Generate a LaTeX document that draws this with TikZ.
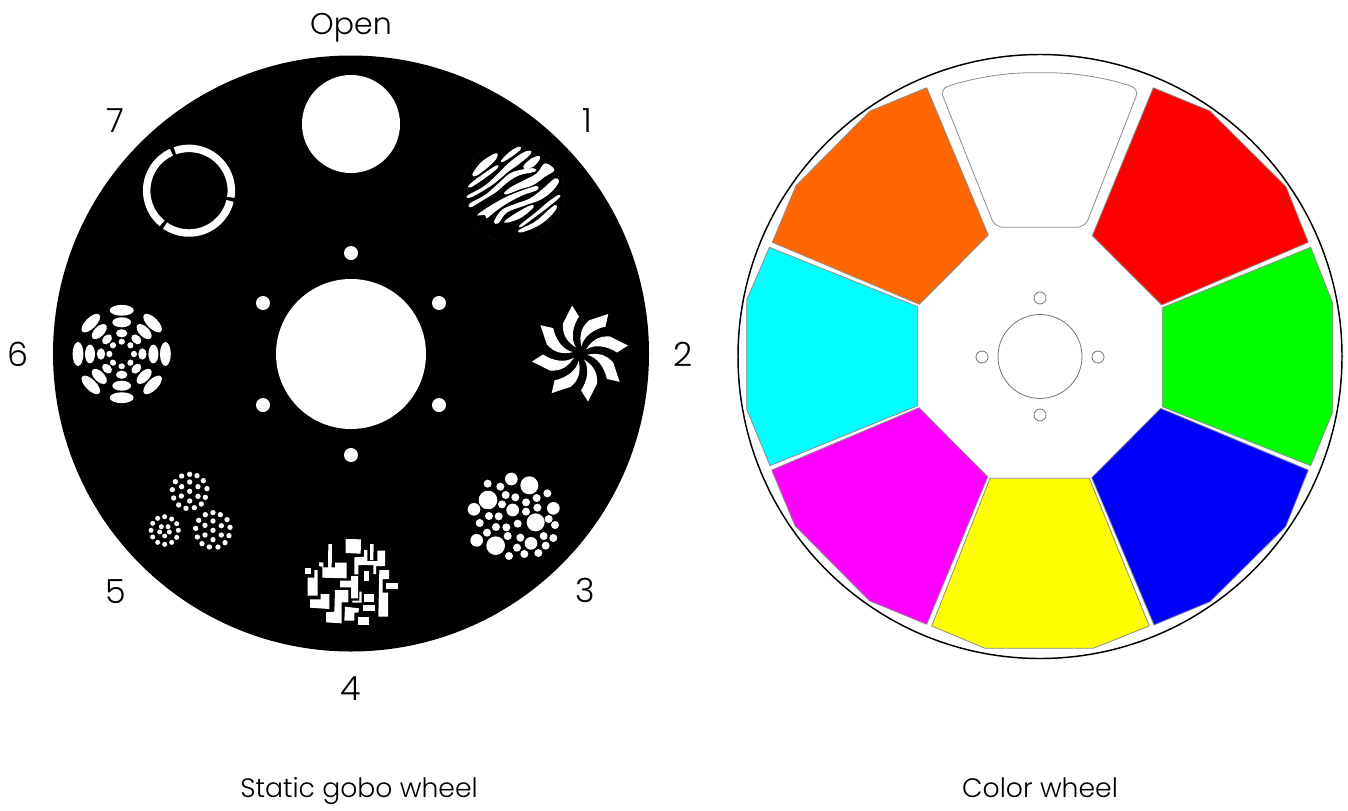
\documentclass[tikz,border=0pt]{standalone}
\usepackage{fontspec}
\setmainfont{Poppins Light}
\definecolor{wheelorange}{RGB}{255,102,0}
\definecolor{wcyan}{RGB}{0,255,255}
\definecolor{wred}{RGB}{255,0,0}
\definecolor{wgreen}{RGB}{0,255,0}
\definecolor{wblue}{RGB}{0,0,255}
\definecolor{wyellow}{RGB}{255,255,0}
\definecolor{wmagenta}{RGB}{255,0,255}
\newcommand{\stp}[1]{\fill[white] plot[smooth cycle,tension=0.6] coordinates {#1};}
\tikzset{
 lab/.style={font=\fontsize{20}{24}\selectfont,text=black,inner sep=0pt,anchor=base},
 numlab/.style={lab,font=\fontsize{25}{30}\selectfont},
 disc/.style={fill=black},
 hole/.style={fill=white},
 seg/.style={fill=#1,draw=black!45,line width=0.6pt,line join=round},
 thin gray/.style={draw=black!55,line width=0.6pt},
}
\begin{document}
\begin{tikzpicture}[x=0.75pt,y=-0.75pt]
\useasboundingbox (0,0) rectangle (1348,810);
% ---------- gobo wheel
\fill[disc] (351,353.5) circle (298);
\fill[hole] (351,354) circle (75);
\foreach \x/\y in {351/253,351/455,263/303,439/303,263/405,439/405}
  \fill[hole] (\x,\y) circle (7);
\fill[hole] (351,124) circle (49);
% gobo 1
\begin{scope}[shift={(440,130)},x=0.25pt,y=-0.25pt]
\draw[draw=black!93!white,line width=0.3pt] (220,185) circle (153);
\stp{(97,133)(120,100)(150,78)(172,70)(168,88)(140,115)(108,138)}
\stp{(183,92)(208,66)(236,50)(242,58)(215,80)(190,95)}
\stp{(87,165)(125,135)(168,107)(172,115)(130,148)(92,172)}
\stp{(82,197)(130,170)(165,140)(205,100)(245,70)(270,62)(272,72)(240,100)(205,125)(170,155)(130,182)(90,203)}
\stp{(250,108)(275,85)(298,78)(298,90)(280,110)(258,118)}
\stp{(90,220)(135,195)(170,165)(210,130)(250,118)(282,115)(285,125)(240,135)(205,155)(170,185)(130,210)(92,232)}
\stp{(193,188)(215,170)(250,152)(290,130)(315,100)(343,120)(315,140)(280,165)(240,178)(200,193)}
\stp{(112,255)(150,228)(200,200)(250,180)(290,168)(292,180)(250,195)(205,218)(165,245)(140,265)(135,255)}
\stp{(162,275)(185,240)(225,222)(270,205)(310,175)(345,145)(357,155)(335,185)(300,210)(250,228)(200,248)(175,280)}
\stp{(195,272)(235,245)(275,225)(278,235)(240,265)(200,278)}
\stp{(237,300)(285,275)(320,245)(345,225)(350,235)(325,265)(290,290)(245,307)}
\stp{(240,285)(290,245)(325,215)(355,195)(358,203)(320,235)(280,265)(245,290)}
\end{scope}
% gobo 2
\foreach \a in {0,45,...,315}
 \fill[white,rotate around={\a:(580,353.5)},shift={(580,353.5)}]
  (-4,-6) .. controls (-12,-11) and (-18,-18) .. (-17,-30) -- (-8,-48) -- (-1,-37) .. controls (-7,-28) and (-10,-15) .. (-4,-6) -- cycle;
% gobo 3
\begin{scope}[shift={(450,460)},x=0.25pt,y=-0.25pt]
\foreach \x/\y/\r in {184/57/19,238/76/27,113/71/12,151/80/12,114/120/28,167/105/12,196/112/12,260/114/12,292/100/12,72/148/19,156/133/12,228/127/12,188/150/19,228/155/12,262/143/12,310/145/19,117/168/12,146/169/12,257/187/27,296/177/12,315/195/12,89/189/12,138/201/12,169/202/12,203/191/12,111/218/12,173/228/12,211/233/12,281/228/12,310/234/12,80/241/19,137/257/28,243/250/19,287/257/12,201/263/12,223/282/12,265/279/12,177/288/12}
 \fill[white] (\x,\y) circle (\r);
\end{scope}
% gobo 4
\begin{scope}[shift={(290,530)},x=0.25pt,y=-0.25pt,every path/.append style={fill=white}]
\fill (167,27) -- (213,28) -- (212,71) -- (167,69) -- cycle;
\fill (115,42) -- (126,42) -- (125,115) -- (114,115) -- cycle;
\fill (240,42) -- (251,42) -- (250,90) -- (240,90) -- cycle;
\fill (45,113) -- (64,113) -- (64,133) -- (45,133) -- cycle;
\fill (87,97) -- (100,97) -- (100,112) -- (135,112) -- (135,98) -- (170,98) -- (170,145) -- (97,143) -- (97,110) -- (87,108) -- cycle;
\fill (73,120) -- (83,120) -- (83,197) -- (53,197) -- (53,143) -- (73,143) -- cycle;
\fill (193,82) -- (222,80) -- (222,60) -- (232,60) -- (232,93) -- (262,93) -- (262,62) -- (285,62) -- (285,108) -- (258,108) -- (258,132) -- (250,132) -- (250,105) -- (205,105) -- (205,133) -- (193,133) -- cycle;
\fill (222,122) -- (238,122) -- (238,153) -- (222,153) -- cycle;
\fill (150,152) -- (183,152) -- (183,138) -- (204,138) -- (204,205) -- (183,205) -- (183,172) -- (150,172) -- cycle;
\fill (268,120) -- (297,120) -- (297,147) -- (278,147) -- (278,188) -- (294,188) -- (294,260) -- (265,260) -- cycle;
\fill (288,158) -- (323,158) -- (323,177) -- (288,177) -- cycle;
\fill (60,208) -- (92,208) -- (92,192) -- (118,192) -- (118,237) -- (60,233) -- cycle;
\fill (135,180) -- (175,180) -- (175,217) -- (155,217) -- (155,280) -- (108,277) -- (108,247) -- (133,245) -- cycle;
\fill (208,185) -- (215,185) -- (215,218) -- (187,218) -- (187,212) -- (208,212) -- cycle;
\fill (223,192) -- (253,192) -- (253,216) -- (223,216) -- cycle;
\fill (220,226) -- (256,226) -- (256,243) -- (220,243) -- cycle;
\fill (165,230) -- (207,235) -- (205,248) -- (193,248) -- (193,272) -- (163,272) -- cycle;
\fill (205,260) -- (237,260) -- (237,286) -- (205,286) -- cycle;
\end{scope}
% gobo 5
\begin{scope}[shift={(140,465)},x=0.25pt,y=-0.25pt]
\foreach \x/\y in {149/28,125/33,171/32,106/50,190/47,97/74,201/71,101/99,196/97,116/120,138/130,163/128,184/117,125/65,149/51,174/65,124/93,149/79,174/94,149/108,
 219/143,196/149,241/149,176/166,261/164,167/190,270/187,172/216,267/212,186/236,208/246,234/246,255/233,195/181,219/168,244/182,195/210,219/196,244/210,219/224}
 \fill[white] (\x,\y) circle (8);
\foreach \x/\y in {74/155,53/160,95/162,38/175,110/176,33/196,115/196,38/216,110/217,53/232,74/238,95/232,64/185,84/185,59/201,88/201,74/213}
 \fill[white] (\x,\y) circle (7.5);
\end{scope}
% gobo 6
\foreach \a in {0,45,...,315}
 \foreach \d/\t/\q in {43.7/12/5.4,31.7/9.4/5,20.7/5.7/4.1,12.3/3.2/3}
  \fill[white,shift={(121.7,354)},rotate=\a] (0,-\d) ellipse ({\t} and {\q});
% gobo 7
\foreach \a/\b in {-9/109.5,114.5/230.5,235.5/346}
 \draw[white,line width=5.6pt] plot[domain=\a:\b,samples=50] ({189+42.3*cos(\x)},{190.7-42.3*sin(\x)});
% labels
\node[lab,font=\fontsize{22.5}{26}\selectfont] (open) at (351,34) {Open};
\node[numlab] (n7) at (115,132) {7};
\node[numlab] (n1) at (587,132) {1};
\node[numlab] (n2) at (683,366) {2};
\node[numlab] (n3) at (585,602) {3};
\node[numlab] (n4) at (351,700) {4};
\node[numlab] (n5) at (116,603) {5};
\node[numlab] (n6) at (18,366) {6};
\node[lab] (t1) at (359,797) {Static gobo wheel};
\node[lab] (t2) at (1040,797) {Color wheel};
% ---------- colour wheel
\draw[black,line width=1.1pt] (1040,356.5) circle (302);
\draw[thin gray] (1040,356.5) circle (42);
\foreach \x/\y in {1040/298,1040/415,982/357,1098/357}
 \draw[thin gray] (\x,\y) circle (6);
\path[seg=white,rounded corners=6pt] (995,227.3) -- (940,89) .. controls (972,78) and (1005,72.7) .. (1040,72.7) .. controls (1075,72.7) and (1108,78) .. (1139,89) -- (1085,227.3) -- cycle;
\path[seg=wheelorange] (926.7,87.7) -- (988.3,235) -- (919.3,304.3) -- (772.3,242.3) -- (796,185.7) -- (870,111) -- cycle;
\path[seg=wcyan] (769.3,247.3) -- (917.7,306.7) -- (917.7,405.7) -- (770,465.7) -- (746.7,409.3) -- (746.7,300) -- cycle;
\path[seg=wred] (1153.3,87.7) -- (1210,111) -- (1286,186.7) -- (1308.3,242.3) -- (1161.7,305) -- (1092.3,235.7) -- cycle;
\path[seg=wgreen] (1310.7,247.3) -- (1332.7,303.3) -- (1332.7,411.7) -- (1310.7,465.7) -- (1162.3,406.7) -- (1162.3,307.7) -- cycle;
\path[seg=wblue] (1160.7,408.3) -- (1308.3,470) -- (1285.7,526.7) -- (1210,601.7) -- (1154,625) -- (1091.7,477.7) -- cycle;
\path[seg=wyellow] (1089.3,478.3) -- (1149.3,626) -- (1093.3,648.3) -- (985,648.3) -- (931.7,626) -- (990,478.3) -- cycle;
\path[seg=wmagenta] (919,407.7) -- (987.7,476.7) -- (926.7,624.3) -- (869.3,600.7) -- (795,525.7) -- (771.7,470) -- cycle;
\end{tikzpicture}
\end{document}
